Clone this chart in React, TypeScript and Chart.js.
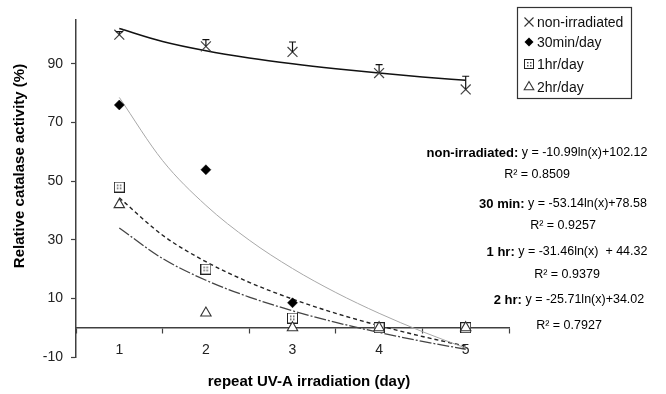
import React, { useEffect, useRef } from 'react';
import { Chart, registerables } from 'chart.js';

Chart.register(...registerables);

// ---------- data ----------
const days = [1, 2, 3, 4, 5];
const xTickLabels = ['1', '2', '3', '4', '5'];
const xBoundaries = [0.5, 1.5, 2.5, 3.5, 4.5, 5.5];
const yTickValues = [-10, 10, 30, 50, 70, 90];

const nonIrradiated = [100, 96, 94.1, 86.9, 81.3];
const nonIrradiatedErr = [1, 2.3, 3.4, 2.9, 4.5];
const min30 = [76, 53.9, 8.5, 0, 0];
const hr1 = [48, 20, 3.3, 0, 0];
const hr2 = [42, 5, 0, 0, 0];

const trendX = [1, 1.5, 2, 2.5, 3, 3.5, 4, 4.5, 5];
const trendNonIrr = [102.12, 97.66, 94.5, 92.05, 90.05, 88.35, 86.88, 85.59, 84.43];
const trend30 = [78.58, 57.03, 41.75, 29.89, 20.2, 12.01, 4.91, -1.35, -6.94];
const trend1h = [44.32, 31.56, 22.51, 15.49, 9.76, 4.91, 0.71, -2.99, -6.31];
const trend2h = [34.02, 23.6, 16.2, 10.46, 5.77, 1.81, -1.62, -4.65, -7.36];

const seriesNames = ['non-irradiated', '30min/day', '1hr/day', '2hr/day'];
const eqNames = ['non-irradiated:', '30 min:', '1 hr:', '2 hr:'];
const eqFormulas = [
  ' y = -10.99ln(x)+102.12',
  ' y = -53.14ln(x)+78.58',
  ' y = -31.46ln(x)  + 44.32',
  ' y = -25.71ln(x)+34.02',
];
const r2Values = ['0.8509', '0.9257', '0.9379', '0.7927'];

const yTitle = 'Relative catalase activity (%)';
const xTitle = 'repeat UV-A irradiation (day)';

const FONT = '"Liberation Sans", Arial, sans-serif';

// ---------- helpers ----------
function makeSquareImage(size: number) {
  const c = document.createElement('canvas');
  c.width = size;
  c.height = size;
  const g = c.getContext('2d')!;
  g.fillStyle = '#ffffff';
  g.fillRect(0, 0, size, size);
  g.strokeStyle = '#222';
  g.lineWidth = 1;
  g.strokeRect(0.5, 0.5, size - 1, size - 1);
  g.fillStyle = '#555';
  const m = Math.floor(size / 2);
  g.fillRect(m - 2, m - 2, 1.5, 1.5);
  g.fillRect(m + 1, m - 2, 1.5, 1.5);
  g.fillRect(m - 2, m + 1, 1.5, 1.5);
  g.fillRect(m + 1, m + 1, 1.5, 1.5);
  return c;
}

function drawMarker(ctx: CanvasRenderingContext2D, kind: number, x: number, y: number, sq: HTMLCanvasElement) {
  ctx.save();
  ctx.lineWidth = 1.1;
  ctx.strokeStyle = '#333';
  if (kind === 0) {
    const r = 4.5;
    ctx.beginPath();
    ctx.moveTo(x - r, y - r);
    ctx.lineTo(x + r, y + r);
    ctx.moveTo(x - r, y + r);
    ctx.lineTo(x + r, y - r);
    ctx.stroke();
  } else if (kind === 1) {
    const r = 4.5;
    ctx.fillStyle = '#000';
    ctx.beginPath();
    ctx.moveTo(x, y - r);
    ctx.lineTo(x + r, y);
    ctx.lineTo(x, y + r);
    ctx.lineTo(x - r, y);
    ctx.closePath();
    ctx.fill();
  } else if (kind === 2) {
    ctx.drawImage(sq, Math.round(x - sq.width / 2), Math.round(y - sq.height / 2));
  } else {
    const r = 5.5;
    ctx.fillStyle = '#fff';
    ctx.beginPath();
    ctx.moveTo(x, y - r);
    ctx.lineTo(x + r * 0.87, y + r * 0.5);
    ctx.lineTo(x - r * 0.87, y + r * 0.5);
    ctx.closePath();
    ctx.fill();
    ctx.stroke();
  }
  ctx.restore();
}

const pts = (arr: number[]) => days.map((d, i) => ({ x: d, y: arr[i] }));
const tpts = (arr: number[]) => trendX.map((d, i) => ({ x: d, y: arr[i] }));

export default function App() {
  const ref = useRef<HTMLCanvasElement>(null);

  useEffect(() => {
    const canvas = ref.current;
    if (!canvas) return;
    const sq = makeSquareImage(11);
    const sqLegend = makeSquareImage(10);

    const overlay = {
      id: 'overlay',
      afterDatasetsDraw(chart: any) {
        const ctx = chart.ctx as CanvasRenderingContext2D;
        const xs = chart.scales.x;
        const ys = chart.scales.y;
        // error bars (plus direction)
        ctx.save();
        ctx.strokeStyle = '#111';
        ctx.lineWidth = 1.2;
        days.forEach((d, i) => {
          const px = xs.getPixelForValue(d);
          const y0 = ys.getPixelForValue(nonIrradiated[i]);
          const y1 = ys.getPixelForValue(nonIrradiated[i] + nonIrradiatedErr[i]);
          ctx.beginPath();
          ctx.moveTo(px, y0);
          ctx.lineTo(px, y1);
          ctx.moveTo(px - 3.5, y1);
          ctx.lineTo(px + 3.5, y1);
          ctx.stroke();
        });
        ctx.restore();
      },
      afterDraw(chart: any) {
        const ctx = chart.ctx as CanvasRenderingContext2D;
        ctx.save();
        // legend
        ctx.strokeStyle = '#333';
        ctx.lineWidth = 1.2;
        ctx.strokeRect(517.5, 7.5, 114, 91);
        const ly = [22, 42, 64, 87];
        ctx.font = `14px ${FONT}`;
        ctx.fillStyle = '#111';
        ctx.textBaseline = 'middle';
        ctx.textAlign = 'left';
        seriesNames.forEach((n, i) => {
          drawMarker(ctx, i, 529, ly[i], sqLegend);
          ctx.fillStyle = '#111';
          ctx.font = `14px ${FONT}`;
          ctx.fillText(n, 537, ly[i] + 1);
        });
        // equations
        const eqCx = [537, 563, 567, 569];
        const eqY = [153, 204, 252, 300];
        const r2Y = [175, 226, 275, 326];
        eqNames.forEach((n, i) => {
          ctx.font = `bold 13px ${FONT}`;
          const w1 = ctx.measureText(n).width;
          ctx.font = `12.5px ${FONT}`;
          const w2 = ctx.measureText(eqFormulas[i]).width;
          const sx = eqCx[i] - (w1 + w2) / 2;
          ctx.fillStyle = '#000';
          ctx.textAlign = 'left';
          ctx.font = `bold 13px ${FONT}`;
          ctx.fillText(n, sx, eqY[i]);
          ctx.font = `12.5px ${FONT}`;
          ctx.fillText(eqFormulas[i], sx + w1, eqY[i]);
          ctx.textAlign = 'center';
          ctx.fillText('R\u00B2 = ' + r2Values[i], eqCx[i], r2Y[i]);
        });
        // axis titles
        ctx.fillStyle = '#000';
        ctx.font = `bold 15px ${FONT}`;
        ctx.textAlign = 'center';
        ctx.textBaseline = 'middle';
        ctx.fillText(xTitle, 309, 382);
        ctx.translate(20, 166);
        ctx.rotate(-Math.PI / 2);
        ctx.fillText(yTitle, 0, 0);
        ctx.restore();
      },
    };

    const chart = new Chart(canvas, {
      type: 'scatter',
      data: {
        datasets: [
          {
            label: seriesNames[3],
            data: pts(hr2),
            showLine: false,
            pointStyle: 'triangle',
            pointRadius: 6,
            pointBackgroundColor: '#fff',
            pointBorderColor: '#333',
            pointBorderWidth: 1.1,
            order: 0,
          },
          {
            label: seriesNames[2],
            data: pts(hr1),
            showLine: false,
            pointStyle: sq as any,
            pointRadius: 5.5,
            order: 1,
          },
          {
            label: seriesNames[1],
            data: pts(min30),
            showLine: false,
            pointStyle: 'rectRot',
            pointRadius: 5,
            pointBackgroundColor: '#000',
            pointBorderColor: '#000',
            pointBorderWidth: 0.5,
            order: 2,
          },
          {
            label: seriesNames[0],
            data: pts(nonIrradiated),
            showLine: false,
            pointStyle: 'crossRot',
            pointRadius: 7,
            pointBorderColor: '#444',
            pointBorderWidth: 1.2,
            order: 3,
          },
          {
            label: 'trend non-irradiated',
            data: tpts(trendNonIrr),
            showLine: true,
            pointRadius: 0,
            borderColor: '#111',
            borderWidth: 1.5,
            cubicInterpolationMode: 'monotone',
            order: 10,
          },
          {
            label: 'trend 30min',
            data: tpts(trend30),
            showLine: true,
            pointRadius: 0,
            borderColor: '#a8a8a8',
            borderWidth: 1,
            cubicInterpolationMode: 'monotone',
            order: 11,
          },
          {
            label: 'trend 1hr',
            data: tpts(trend1h),
            showLine: true,
            pointRadius: 0,
            borderColor: '#222',
            borderWidth: 1.4,
            borderDash: [4, 3],
            cubicInterpolationMode: 'monotone',
            order: 12,
          },
          {
            label: 'trend 2hr',
            data: tpts(trend2h),
            showLine: true,
            pointRadius: 0,
            borderColor: '#444',
            borderWidth: 1.3,
            borderDash: [12, 2, 2, 2],
            cubicInterpolationMode: 'monotone',
            order: 13,
          },
        ],
      },
      options: {
        animation: false,
        responsive: false,
        maintainAspectRatio: false,
        devicePixelRatio: 1,
        layout: { padding: { left: 0, right: 157, top: 20, bottom: 37 } },
        plugins: { legend: { display: false }, tooltip: { enabled: false } },
        scales: {
          x: {
            type: 'linear',
            min: 0.5,
            max: 5.5,
            position: { y: 0 } as any,
            afterBuildTicks: (scale: any) => {
              const vals = [...xBoundaries, ...days].sort((a, b) => a - b);
              scale.ticks = vals.map((v) => ({ value: v }));
            },
            grid: {
              drawOnChartArea: false,
              tickLength: 5,
              tickWidth: 1.2,
              tickColor: (c: any) => (c.tick && days.includes(c.tick.value) ? 'rgba(0,0,0,0)' : '#404040'),
            },
            border: { display: true, color: '#404040', width: 1.5 },
            ticks: {
              autoSkip: false,
              maxRotation: 0,
              padding: 9,
              color: '#222',
              font: { family: FONT, size: 14 },
              callback: (v: any) => {
                const i = days.indexOf(Number(v));
                return i >= 0 ? xTickLabels[i] : '';
              },
            },
          },
          y: {
            type: 'linear',
            min: -10,
            max: 105,
            afterBuildTicks: (scale: any) => {
              scale.ticks = yTickValues.map((v) => ({ value: v }));
            },
            afterFit: (scale: any) => {
              scale.width = 76;
            },
            grid: { drawOnChartArea: false, tickLength: 5, tickColor: '#404040', tickWidth: 1.2 },
            border: { display: true, color: '#404040', width: 1.5 },
            ticks: {
              padding: 8,
              color: '#222',
              font: { family: FONT, size: 14 },
            },
          },
        },
      },
      plugins: [overlay],
    });
    return () => chart.destroy();
  }, []);

  return (
    <div style={{ position: 'absolute', left: 0, top: 0, width: 666, height: 394, background: '#fff' }}>
      <canvas ref={ref} width={666} height={394} style={{ width: 666, height: 394, display: 'block' }} />
    </div>
  );
}
